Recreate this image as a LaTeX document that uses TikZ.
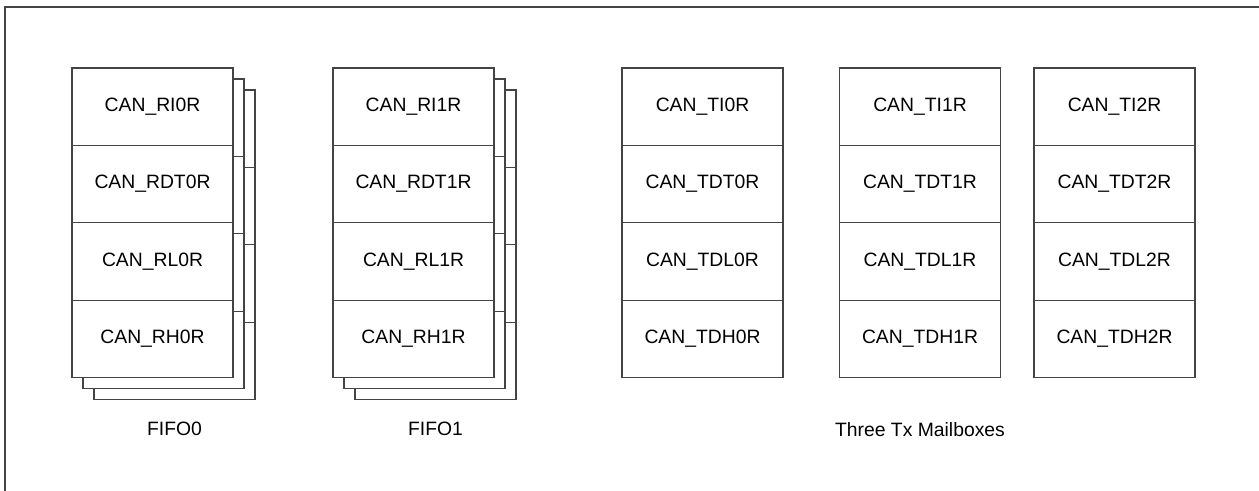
\documentclass[tikz,border=0pt]{standalone}
\usepackage{fontspec}
\setmainfont{Liberation Sans}
\usetikzlibrary{positioning}
\definecolor{edge}{RGB}{68,68,68}

\begin{document}
\begin{tikzpicture}[x=1cm,y=1cm,every node/.style={font=\fontsize{11}{13}\selectfont},
  cell/.style={draw=edge,line width=.6pt,fill=white,minimum width=3.22cm,minimum height=1.548cm,inner sep=0pt,outer sep=0pt}]
\useasboundingbox (0,0) rectangle (25.18,-9.82);
% outer frame, cut off by the page edge
\coordinate (fbl) at (0.1,-9.82);
\coordinate (ftr) at (25.18,-0.14);
\draw[edge,line width=.6pt] (fbl) |- (ftr);

% receive FIFOs, three mailboxes deep
\foreach \f/\x in {0/3.05,1/8.27}{
  \foreach \d in {2,1}{
    \foreach \r/\y in {1/-2.134,2/-3.682,3/-5.23,4/-6.778}
      \node[cell] (f\f-d\d-r\r) at (\x+.22*\d,\y-.22*\d) {};
  }
  \node[cell] (f\f-i) at (\x,-2.134) {CAN\_RI\f R};
  \node[cell,below=0pt of f\f-i] (f\f-dt) {CAN\_RDT\f R};
  \node[cell,below=0pt of f\f-dt] (f\f-l) {CAN\_RL\f R};
  \node[cell,below=0pt of f\f-l] (f\f-h) {CAN\_RH\f R};
  \node[below=.33cm of f\f-d2-r4] (f\f-name) {FIFO\f};
}

% transmit mailboxes
\foreach \m/\x in {0/14.05,1/18.40,2/22.29}{
  \node[cell] (tx\m-i) at (\x,-2.134) {CAN\_TI\m R};
  \node[cell,below=0pt of tx\m-i] (tx\m-dt) {CAN\_TDT\m R};
  \node[cell,below=0pt of tx\m-dt] (tx\m-dl) {CAN\_TDL\m R};
  \node[cell,below=0pt of tx\m-dl] (tx\m-dh) {CAN\_TDH\m R};
}
\node[below=.78cm of tx1-dh] (txname) {Three Tx Mailboxes};
\end{tikzpicture}
\end{document}
